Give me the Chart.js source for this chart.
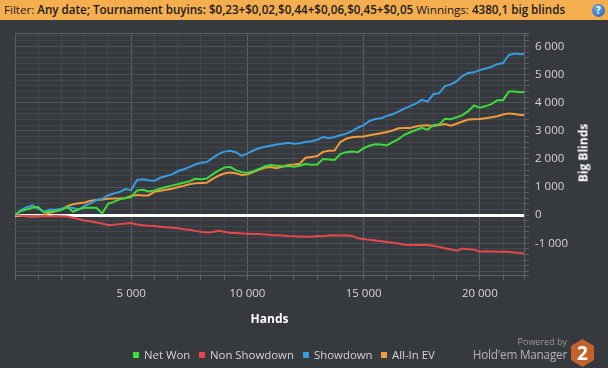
<!DOCTYPE html>
<html>
<head>
<meta charset="utf-8">
<script src="https://cdn.jsdelivr.net/npm/chart.js@4.4.1/dist/chart.umd.min.js"></script>
<style>
  html, body { margin: 0; padding: 0; }
  body { width: 608px; height: 368px; background: #36393d; position: relative; overflow: hidden; font-family: "Open Sans", sans-serif; }
  #filterBar { position: absolute; left: 0; top: 0; width: 608px; height: 20px; background: #f4ae4f; color: #1a1a1a; font-size: 11.6px; line-height: 20px; padding-left: 4px; box-sizing: border-box; white-space: nowrap; z-index: 2; }
  #filterBar b { font-weight: 600; }
  #help { position: absolute; left: 592px; top: 4px; width: 13px; height: 13px; border-radius: 50%; background: radial-gradient(circle at 40% 35%, #6aa8ea, #1f5fb0); color: #fff; font-size: 10px; font-weight: 700; line-height: 13px; text-align: center; }
  #chartBox { position: absolute; left: 0; top: 0; width: 608px; height: 368px; }
  #yTitle { position: absolute; left: 583px; top: 153px; transform: translate(-50%, -50%) rotate(-90deg); color: #ffffff; font-size: 12px; font-weight: 700; white-space: nowrap; }
  .legItem { position: absolute; top: 346px; color: #d4d4d4; font-size: 11.4px; white-space: nowrap; line-height: 18px; }
  .legItem i { display: inline-block; width: 6px; height: 6px; margin-right: 5px; vertical-align: 1px; }
  #powered { position: absolute; right: 41px; top: 335px; color: #9a9a9a; font-size: 9px; }
  #hm { position: absolute; right: 41px; top: 346px; color: #b4b4b4; font-size: 11.8px; letter-spacing: -0.25px; white-space: nowrap; }
  #logo { position: absolute; left: 571px; top: 339px; width: 23px; height: 28px; background: #c3622c; clip-path: polygon(50% 0, 100% 25%, 100% 75%, 50% 100%, 0 75%, 0 25%); color: #fff; font-weight: 700; font-size: 19px; line-height: 28px; text-align: center; }
</style>
</head>
<body>
<div id="filterBar">Filter: <b>Any date; Tournament buyins: $0,23+$0,02,$0,44+$0,06,$0,45+$0,05</b> Winnings: <b>4380,1 big blinds</b><span id="help">?</span></div>
<div id="chartBox"><canvas id="bbChart" width="608" height="368"></canvas></div>
<div id="yTitle">Big Blinds</div>
<div id="legend"></div>
<div id="powered">Powered by</div>
<div id="hm">Hold'em Manager</div>
<div id="logo">2</div>
<script>
const hands = [
  0, 250, 500, 750, 1000, 1250, 1500, 1750, 2000, 2250, 2500, 2750,
  3000, 3250, 3500, 3750, 4000, 4250, 4500, 4750, 5000, 5250, 5500, 5750,
  6000, 6250, 6500, 6750, 7000, 7250, 7500, 7750, 8000, 8250, 8500, 8750,
  9000, 9250, 9500, 9750, 10000, 10250, 10500, 10750, 11000, 11250, 11500, 11750,
  12000, 12250, 12500, 12750, 13000, 13250, 13500, 13750, 14000, 14250, 14500, 14750,
  15000, 15250, 15500, 15750, 16000, 16250, 16500, 16750, 17000, 17250, 17500, 17750,
  18000, 18250, 18500, 18750, 19000, 19250, 19500, 19750, 20000, 20250, 20500, 20750,
  21000, 21250, 21500, 21750, 21900
];

const netWon = [
  0, 150, 200, 260, 290, 90, 130, 150, 190, 290, 120, 210,
  270, 260, 260, 60, 400, 470, 560, 600, 640, 880, 900, 840,
  880, 950, 1000, 1050, 1100, 1150, 1200, 1290, 1280, 1300, 1450, 1580,
  1690, 1720, 1600, 1530, 1500, 1560, 1640, 1740, 1780, 1760, 1740, 1745,
  1720, 1760, 1815, 1790, 1800, 2000, 1980, 1960, 2170, 2240, 2260, 2240,
  2380, 2470, 2520, 2510, 2480, 2600, 2700, 2860, 2950, 3030, 3110, 3040,
  3200, 3230, 3430, 3410, 3480, 3560, 3700, 3900, 3820, 3880, 3950, 4090,
  4090, 4400, 4400, 4370, 4380
];

const nonShowdown = [
  0, -20, -30, -30, -40, -35, -40, -35, -40, -50, -90, -150,
  -190, -220, -260, -300, -350, -340, -320, -300, -280, -330, -360, -380,
  -390, -410, -430, -445, -470, -500, -520, -560, -595, -620, -600, -560,
  -590, -630, -640, -650, -660, -670, -675, -690, -705, -715, -725, -740,
  -750, -760, -770, -765, -740, -750, -725, -720, -725, -720, -740, -820,
  -850, -880, -905, -930, -955, -980, -1010, -1050, -1060, -1055, -1060, -1060,
  -1090, -1130, -1180, -1225, -1270, -1190, -1210, -1225, -1300, -1285, -1290, -1300,
  -1295, -1310, -1330, -1350, -1370
];

const showdown = [
  0, 180, 280, 350, 230, 120, 200, 190, 230, 280, 250, 200,
  340, 420, 530, 580, 700, 770, 820, 930, 890, 1250, 1280, 1240,
  1220, 1330, 1390, 1450, 1560, 1630, 1710, 1800, 1860, 1890, 2030, 2170,
  2260, 2290, 2240, 2110, 2200, 2300, 2380, 2430, 2470, 2510, 2540, 2575,
  2540, 2560, 2600, 2630, 2680, 2780, 2740, 2780, 2840, 2900, 2990, 3110,
  3200, 3350, 3420, 3450, 3530, 3590, 3680, 3790, 3880, 3970, 4100, 4040,
  4300, 4340, 4590, 4650, 4760, 4950, 5060, 5080, 5160, 5220, 5280, 5370,
  5410, 5700, 5750, 5720, 5740
];

const allInEV = [
  0, -20, -40, -50, -40, 0, 80, 140, 200, 320, 390, 420,
  450, 510, 540, 560, 580, 590, 595, 610, 680, 720, 700, 700,
  830, 870, 900, 940, 990, 1040, 1100, 1130, 1140, 1150, 1290, 1400,
  1480, 1520, 1490, 1430, 1450, 1530, 1610, 1690, 1710, 1670, 1720, 1780,
  1800, 1830, 2040, 2070, 2100, 2250, 2290, 2300, 2600, 2720, 2770, 2790,
  2800, 2840, 2880, 2910, 2960, 3010, 3090, 3100, 3100, 3150, 3190, 3200,
  3170, 3210, 3240, 3180, 3250, 3330, 3400, 3410, 3420, 3450, 3480, 3520,
  3580, 3620, 3600, 3560, 3560
];

const seriesNames = ["Net Won", "Non Showdown", "Showdown", "All-In EV"];
const seriesColors = ["#3ddc3d", "#e5484b", "#3a9be0", "#f39a3a"];
const seriesValues = [netWon, nonShowdown, showdown, allInEV];

const xMax = 21900;
const xStep = 1000;
const yMin = -2130;
const yMax = 6480;
const yStep = 200;
const yLabelMin = -1000;

// "5 000" style labels
function spaced(v) {
  const s = String(Math.abs(v)).replace(/\B(?=(\d{3})+(?!\d))/g, " ");
  return (v < 0 ? "-" : "") + s;
}

// grid every step, plus both edges
function stepTicks(min, max, step) {
  const t = [{ value: min }];
  for (let v = Math.ceil(min / step) * step; v < max; v += step) {
    if (v > min) t.push({ value: v });
  }
  t.push({ value: max });
  return t;
}

const datasets = seriesNames.map((name, i) => ({
  label: name,
  data: hands.map((h, j) => ({ x: h, y: seriesValues[i][j] })),
  borderColor: seriesColors[i],
  backgroundColor: seriesColors[i],
  borderWidth: 2,
  pointRadius: 0,
  tension: 0,
  fill: false
}));

const legendBox = document.getElementById("legend");
const legendLeft = [133, 199, 303, 381];
seriesNames.forEach((name, i) => {
  legendBox.innerHTML += `<div class="legItem" style="left:${legendLeft[i]}px"><i style="background:${seriesColors[i]}"></i>${name}</div>`;
});

const gridMinor = "#43464a";
const gridMajor = "#4e5155";
const gridEdge = "#5d6064";

new Chart(document.getElementById("bbChart"), {
  type: "line",
  data: { datasets: datasets },
  options: {
    responsive: false,
    animation: false,
    layout: { padding: { left: 15, top: 33, right: 0, bottom: 40 } },
    plugins: { legend: { display: false }, tooltip: { enabled: false } },
    scales: {
      x: {
        type: "linear",
        min: 0,
        max: xMax,
        afterBuildTicks: (s) => { s.ticks = stepTicks(0, xMax, xStep); },
        afterFit: (s) => { s.height = 53; },
        grid: {
          color: (c) => {
            const v = c.tick.value;
            if (v === 0 || v === xMax) return gridEdge;
            return v % 5000 === 0 ? gridEdge : gridMinor;
          },
          tickColor: gridEdge,
          tickLength: 5,
          tickWidth: 1
        },
        border: { color: gridEdge },
        ticks: {
          autoSkip: false,
          maxRotation: 0,
          padding: 7,
          color: "#d6d6d6",
          font: { family: "Open Sans", size: 11.5 },
          callback: (v) => (v > 0 && v % 5000 === 0 ? spaced(v) : "")
        },
        title: {
          display: true,
          text: "Hands",
          color: "#ffffff",
          font: { family: "Open Sans", size: 12, weight: "bold" },
          padding: { top: 0, bottom: 1 }
        }
      },
      y: {
        position: "right",
        min: yMin,
        max: yMax,
        afterBuildTicks: (s) => { s.ticks = stepTicks(yMin, yMax, yStep); },
        afterFit: (s) => { s.width = 84; },
        grid: {
          color: (c) => {
            const v = c.tick.value;
            if (v === 0) return "#ffffff";
            if (v === yMax || v === yMin) return gridEdge;
            return v % 1000 === 0 ? gridMajor : gridMinor;
          },
          lineWidth: (c) => (c.tick.value === 0 ? 3 : 1),
          tickColor: gridEdge,
          tickLength: 5,
          tickWidth: 1
        },
        border: { color: gridEdge },
        ticks: {
          autoSkip: false,
          padding: 6,
          color: "#d6d6d6",
          font: { family: "Open Sans", size: 11.5 },
          callback: (v) => (v % 1000 === 0 && v >= yLabelMin ? spaced(v) : "")
        }
      }
    }
  }
});
</script>
</body>
</html>
